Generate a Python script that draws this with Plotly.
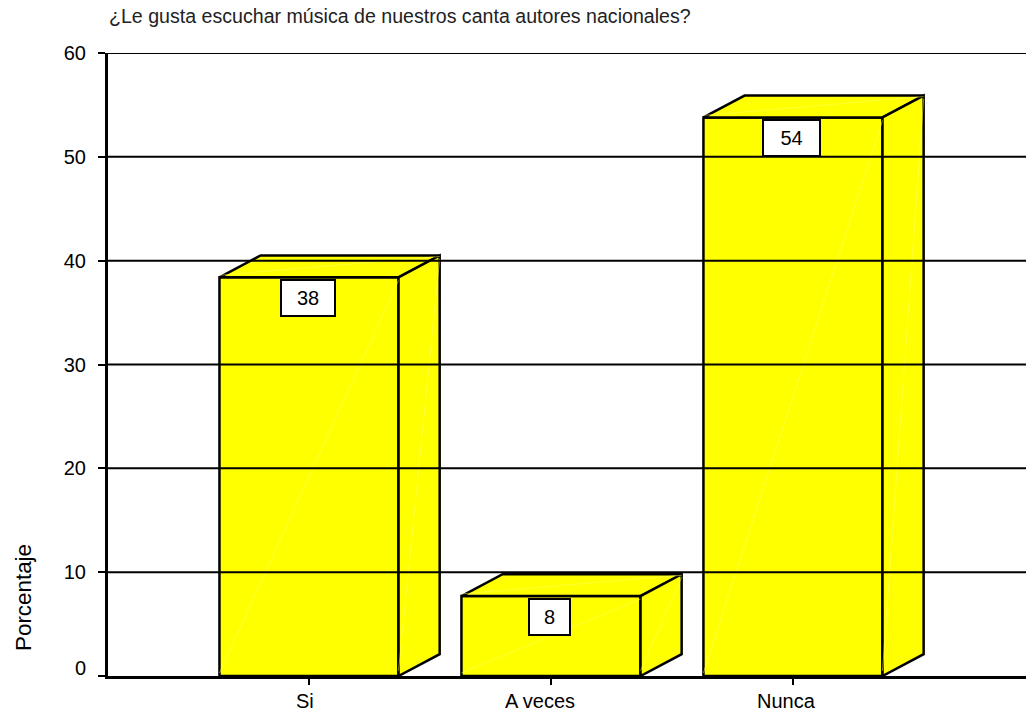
import plotly.graph_objects as go

categories = ["Si", "A veces", "Nunca"]
positions = [0, 1, 2]
values = [38.4, 7.7, 53.8]
value_labels = ["38", "8", "54"]
y_ticks = [0, 10, 20, 30, 40, 50, 60]
y_tick_labels = ["", "10", "20", "30", "40", "50", "60"]
gridlines = [10, 20, 30, 40, 50, 60]
title_text = "¿Le gusta escuchar música de nuestros canta autores nacionales?"
y_title = "Porcentaje"

BAR_W = 0.74
DX = 0.17
DY = 2.1
YELLOW = "#ffff00"
EDGE = 2.5
FONT = "Liberation Sans"
L, R, T, B = 108, 0, 53, 41
X_RANGE = [-0.8306, 2.963]

fig = go.Figure()

fig.add_trace(go.Bar(
    x=positions, y=values, width=BAR_W,
    marker=dict(color=YELLOW, line=dict(color="black", width=EDGE)),
    showlegend=False, hoverinfo="skip",
))

for p, v in zip(positions, values):
    x0, x1 = p - BAR_W / 2, p + BAR_W / 2
    fig.add_trace(go.Scatter(
        x=[x0, x1, x1 + DX, x0 + DX, x0], y=[v, v, v + DY, v + DY, v],
        mode="lines", fill="toself", fillcolor=YELLOW,
        line=dict(color="black", width=EDGE), showlegend=False, hoverinfo="skip"))
    fig.add_trace(go.Scatter(
        x=[x1, x1 + DX, x1 + DX, x1, x1], y=[0, DY, v + DY, v, 0],
        mode="lines", fill="toself", fillcolor=YELLOW,
        line=dict(color="black", width=EDGE), showlegend=False, hoverinfo="skip"))
    fig.add_trace(go.Scatter(
        x=[x0, x1, None, x1, x1 + DX, None, x0, x1 + DX],
        y=[0.3, v - 0.3, None, 0.5, v + DY - 0.3, None, v + 0.2, v + DY - 0.1],
        mode="lines", line=dict(color="#ffff70", width=0.5),
        showlegend=False, hoverinfo="skip"))

shapes = [dict(type="line", xref="paper", x0=0, x1=1, yref="y", y0=g, y1=g,
               layer="above", line=dict(color="black", width=2)) for g in gridlines]

annotations = []
for p, v, t, w in zip(positions, values, value_labels, [55, 42, 58]):
    annotations.append(dict(
        x=p, y=v, xref="x", yref="y", text=t, showarrow=False,
        xanchor="center", yanchor="top", yshift=-2, xshift=-1, width=w - 3, height=34,
        align="center", valign="middle", bgcolor="white", bordercolor="black",
        borderwidth=2, borderpad=0, font=dict(family=FONT, size=20, color="black")))

for p, t, s in zip(positions, categories, [-4, -11, -6]):
    annotations.append(dict(
        x=p, y=0, xref="x", yref="y", text=t, showarrow=False, xanchor="center",
        yanchor="top", xshift=s, yshift=-12, font=dict(family=FONT, size=20, color="black")))

plot_w, plot_h = 1026 - L - R, 717 - T - B
annotations.append(dict(
    x=0, y=0, xref="paper", yref="y", text="0", showarrow=False, xanchor="right",
    yanchor="middle", xshift=-20, yshift=8, font=dict(family=FONT, size=20, color="black")))
annotations.append(dict(
    x=(23 - L) / plot_w, y=(676 - 598) / plot_h, xref="paper", yref="paper", text=y_title,
    showarrow=False, textangle=-90, xanchor="center", yanchor="middle",
    font=dict(family=FONT, size=22.4, color="black")))

fig.update_layout(
    width=1026, height=717, margin=dict(l=L, r=R, t=T, b=B),
    paper_bgcolor="white", plot_bgcolor="white", showlegend=False,
    title=dict(text=title_text, xref="container", yref="container",
               x=109 / 1026, xanchor="left", y=1 - 16 / 717, yanchor="middle",
               font=dict(family=FONT, size=19.6, color="#222222")),
    xaxis=dict(range=X_RANGE, tickmode="array", tickvals=positions, ticktext=[""] * 3,
               ticks="outside", ticklen=6, tickwidth=2, tickcolor="black",
               showgrid=False, zeroline=False, showline=True, linecolor="black", linewidth=3),
    yaxis=dict(range=[0, 60], tickmode="array", tickvals=y_ticks, ticktext=y_tick_labels,
               ticks="outside", ticklen=7, tickwidth=2, tickcolor="black",
               ticklabelstandoff=8,
               showgrid=False, zeroline=False, showline=True, linecolor="black", linewidth=3,
               tickfont=dict(family=FONT, size=20, color="black")),
    shapes=shapes, annotations=annotations,
)

fig.write_html("out.html", config={"displayModeBar": False},
               post_script="document.body.style.margin='0';document.documentElement.style.overflow='hidden';")
